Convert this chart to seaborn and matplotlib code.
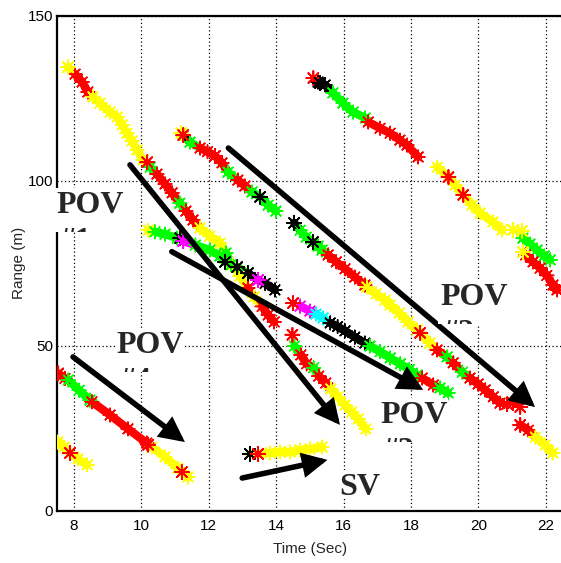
import numpy as np
import pandas as pd
import matplotlib
matplotlib.use("Agg")
import matplotlib.pyplot as plt
import seaborn as sns
from matplotlib.collections import LineCollection
from matplotlib.patches import Rectangle

# ---------------- data ----------------
trk1_t = [7.82, 8.03, 8.24, 8.41, 8.56, 8.77, 9.07, 9.28, 9.43, 9.57, 9.72, 9.87, 10.05, 10.26, 10.46, 10.70,
          10.91, 11.14, 11.32, 11.53, 11.74, 12.03, 12.33, 12.51, 12.69, 12.92, 13.16, 13.34, 13.58, 13.76, 13.94]
trk1_r = [134.4, 132.3, 129.9, 126.9, 125.4, 123.5, 120.8, 119.3, 116.9, 114.4, 112.0, 109.3, 106.3, 104.1, 102.0,
          99.0, 96.3, 93.2, 90.8, 88.1, 85.7, 83.2, 81.1, 78.1, 74.5, 71.1, 67.5, 64.8, 61.9, 59.3, 57.2]
trk1_c = list("yrrryyyyyyyyygrrrgrryyygyyryrrr")

trk2_t = [11.18, 11.24, 11.44, 11.74, 11.96, 12.18, 12.39, 12.57, 12.86, 13.07, 13.28, 13.52, 13.76, 13.99]
trk2_r = [114.4, 113.8, 111.7, 109.9, 108.8, 107.5, 105.4, 102.6, 100.2, 98.4, 96.6, 95.1, 92.6, 90.8]
trk2_c = list("ykgrrrrgrrgggg")

trk3_t = [10.20, 10.40, 10.70, 11.06, 11.15, 11.24, 11.60, 12.03, 12.33, 12.48, 12.66, 12.84, 13.16, 13.46, 13.67, 13.96]
trk3_r = [85.0, 84.5, 83.8, 82.6, 82.6, 81.7, 80.5, 79.0, 77.2, 75.4, 74.5, 73.8, 72.0, 69.9, 68.9, 66.9]
trk3_c = list("ygggkmggggggkmkk")

trk4_t = [14.53, 14.71, 14.89, 15.09, 15.24, 15.36, 15.54, 15.78, 16.04, 16.33, 16.63, 16.69, 16.96, 17.23, 17.38,
          17.65, 17.91, 18.18, 18.27, 18.56, 18.77, 19.07, 19.25, 19.52, 19.75, 19.99, 20.20, 20.44, 20.64]
trk4_r = [87.2, 85.0, 82.9, 81.4, 80.2, 79.0, 77.5, 75.4, 73.3, 70.8, 68.4, 67.8, 65.7, 63.8, 62.3, 59.9, 57.2,
          54.8, 53.9, 50.8, 48.7, 46.6, 44.8, 42.0, 40.2, 38.4, 36.6, 34.5, 32.6]
trk4_c = list("kgggggrrrrryyyyyyyyyrgrgrrrrr")

trk5_t = [21.24, 21.48, 21.69, 21.98, 22.21]
trk5_r = [26.0, 24.4, 22.3, 19.9, 17.5]
trk5_c = list("rryyy")

trk6_t = [14.71, 15.00, 15.18, 15.39, 15.60, 15.82, 16.04, 16.33, 16.63, 16.78, 17.08, 17.38, 17.68, 17.95, 18.18,
          18.33, 18.66, 18.86, 19.10]
trk6_r = [62.0, 60.5, 59.6, 58.4, 56.9, 55.8, 54.5, 52.6, 50.8, 49.9, 48.2, 46.3, 44.5, 42.8, 41.1, 40.2, 38.1,
          37.2, 35.7]
trk6_c = list("mmcckkkkkggggggrrgg")

trk7_t = [14.54, 14.73, 14.90, 15.11, 15.26, 15.47, 15.62, 15.83, 16.04, 16.24, 16.43, 16.66]
trk7_r = [49.9, 47.2, 44.5, 43.3, 40.8, 38.7, 36.9, 34.5, 32.0, 29.9, 27.8, 24.8]
trk7_c = list("grrgrryyyyyy")

trk8_t = [15.24, 15.45, 15.68, 15.98, 16.28, 16.64, 16.73, 17.08, 17.38, 17.67, 17.88, 18.21]
trk8_r = [129.9, 129.0, 126.6, 123.5, 120.8, 119.0, 117.8, 115.9, 114.4, 112.3, 110.8, 107.2]
trk8_c = list("kkggggrrrrrr")

trk9_t = [18.78, 19.11, 19.31, 19.55, 19.81, 20.05, 20.43, 20.70]
trk9_r = [104.1, 101.1, 98.7, 95.7, 92.6, 90.2, 87.5, 85.1]
trk9_c = list("yyyyyyyy")

trk10_t = [21.32, 21.53, 21.74, 21.95, 22.13]
trk10_r = [82.6, 80.8, 79.0, 77.2, 76.0]
trk10_c = list("ggggg")

trk11_t = [21.40, 21.62, 21.83, 22.03, 22.21, 22.33]
trk11_r = [77.5, 75.4, 73.5, 71.3, 68.4, 66.9]
trk11_c = list("rrrrrr")

trk12_t = [13.22, 13.46, 13.82, 14.11, 14.41, 14.71, 15.00, 15.36]
trk12_r = [17.2, 17.2, 17.5, 17.8, 17.8, 18.4, 18.7, 19.3]
trk12_c = list("yyyyyyyy")

trk13_t = [7.53, 7.73, 7.83, 8.15, 8.47, 8.53, 9.07, 9.60, 10.16, 10.31, 10.70, 11.08, 11.38]
trk13_r = [41.6, 40.1, 39.6, 36.5, 33.5, 33.0, 29.0, 24.8, 20.5, 19.3, 16.3, 12.9, 10.2]
trk13_c = list("rrgggrrrryyyy")

trk14_t = [7.52, 7.70, 7.88, 8.12, 8.39]
trk14_r = [20.8, 19.3, 17.5, 15.7, 13.9]
trk14_c = list("yyyyy")

# single, more visible detections
acc_t = [7.82, 10.17, 11.18, 11.24, 12.18, 13.52, 11.15, 11.24, 12.48, 12.84, 13.16, 13.46, 14.53, 15.09,
         18.27, 20.85, 21.03, 21.24, 14.50, 14.48, 15.10, 15.30, 19.11, 19.55, 21.03, 21.29, 21.32,
         13.22, 13.46, 7.53, 10.20, 11.20, 7.88, 21.24]
acc_r = [134.4, 105.6, 114.4, 113.8, 107.5, 95.1, 82.6, 81.7, 75.4, 73.8, 72.0, 69.9, 87.2, 81.4,
         53.9, 32.3, 32.6, 31.4, 62.9, 53.3, 131.1, 129.6, 101.1, 95.7, 85.1, 84.8, 78.4,
         17.2, 17.2, 41.6, 20.0, 11.7, 17.5, 26.0]
acc_c = list("yryrrkkmkkkmkkrrrrrrrkrryyykrrrrrr")

# arrows (start -> tip)
arrow_t0 = [9.66, 10.90, 12.58, 7.97, 12.99]
arrow_r0 = [104.8, 78.5, 109.9, 46.6, 9.9]
arrow_t1 = [15.89, 18.36, 21.68, 11.29, 15.52]
arrow_r1 = [26.0, 36.6, 31.4, 20.8, 15.4]

# labels
label_text = ["POV", "POV", "POV", "POV", "SV"]
label_sub = ["#1", "#4", "#2", "#3", ""]
label_t = [7.49, 9.27, 18.86, 17.08, 15.87]
label_r = [90.2, 47.7, 62.3, 26.5, 4.76]

x_ticks = [8, 10, 12, 14, 16, 18, 20, 22]
y_ticks = [0, 50, 100, 150]

color_map = {"y": "#ffff00", "r": "#ff0000", "g": "#00ff00",
             "k": "#000000", "m": "#ff00ff", "c": "#00ffff"}

tracks = [(trk1_t, trk1_r, trk1_c), (trk2_t, trk2_r, trk2_c), (trk3_t, trk3_r, trk3_c),
          (trk4_t, trk4_r, trk4_c), (trk5_t, trk5_r, trk5_c), (trk6_t, trk6_r, trk6_c),
          (trk7_t, trk7_r, trk7_c), (trk8_t, trk8_r, trk8_c), (trk9_t, trk9_r, trk9_c),
          (trk10_t, trk10_r, trk10_c), (trk11_t, trk11_r, trk11_c), (trk12_t, trk12_r, trk12_c),
          (trk13_t, trk13_r, trk13_c), (trk14_t, trk14_r, trk14_c)]

# ---------------- figure ----------------
sns.set_style("white")
plt.rcParams["font.family"] = ["Liberation Sans", "DejaVu Sans"]

W, H = 561, 563
fig = plt.figure(figsize=(W / 100, H / 100), dpi=100)
ax_left, ax_bottom, ax_top = 57.2, 510.7, 15.7
px_per_t = 33.7
ax = fig.add_axes([ax_left / W, 1 - ax_bottom / H, 15.0 * px_per_t / W, (ax_bottom - ax_top) / H])
ax.set_xlim(7.5, 22.5)
ax.set_ylim(0, 150)
px_per_r = (ax_bottom - ax_top) / 150.0

rows = []
segs, seg_cols = [], []
for k, (tt, rr, cc) in enumerate(tracks):
    for i in range(len(tt)):
        rows.append({"track": k, "t": tt[i], "r": rr[i], "c": cc[i]})
        if i < len(tt) - 1:
            segs.append([(tt[i], rr[i]), (tt[i + 1], rr[i + 1])])
            seg_cols.append(color_map[cc[i]])
df = pd.DataFrame(rows)
acc_df = pd.DataFrame({"t": acc_t, "r": acc_r, "c": acc_c})

lc = LineCollection(segs, colors=seg_cols, linewidths=6.0, capstyle="round", zorder=2.2)
ax.add_collection(lc)

star = (8, 2, 0)
sns.scatterplot(data=df, x="t", y="r", hue="c", palette=color_map, marker=star, s=95,
                linewidth=1.1, legend=False, ax=ax, zorder=3)
sns.scatterplot(data=acc_df, x="t", y="r", hue="c", palette=color_map, marker=star, s=100,
                linewidth=1.3, legend=False, ax=ax, zorder=3.5)

for t0, r0, t1, r1 in zip(arrow_t0, arrow_r0, arrow_t1, arrow_r1):
    ax.annotate("", xy=(t1, r1), xytext=(t0, r0),
                arrowprops=dict(arrowstyle="-|>", color="black", lw=4.0, mutation_scale=30,
                                shrinkA=0, shrinkB=0, joinstyle="miter"),
                zorder=4)

serif = ["Liberation Serif", "DejaVu Serif"]
for txt, sub, tx, ry in zip(label_text, label_sub, label_t, label_r):
    w_px = 70 if txt == "POV" else 44
    below_px = 19 if sub else 4
    rect = Rectangle((tx - 2 / px_per_t, ry - below_px / px_per_r), w_px / px_per_t,
                     (below_px + 25) / px_per_r, transform=ax.transData,
                     facecolor="white", edgecolor="none", zorder=5, clip_on=False)
    ax.add_patch(rect)
    ax.text(tx, ry, txt, family=serif, weight="bold", fontsize=23, ha="left", va="baseline",
            zorder=6, clip_on=False)
    if sub:
        clip = Rectangle((tx - 2 / px_per_t, ry - below_px / px_per_r), w_px / px_per_t,
                         (below_px + 25) / px_per_r, transform=ax.transData)
        st = ax.text(tx + 3 / px_per_t, ry - 35.5 / px_per_r, sub, family=serif, weight="bold",
                     fontsize=23, ha="left", va="baseline", zorder=6, clip_on=True)
        st.set_clip_path(clip)

ax.set_xticks(x_ticks)
ax.set_yticks(y_ticks)
ax.grid(True, linestyle=(0, (1, 2)), color="black", linewidth=0.9)
ax.set_axisbelow(True)
ax.tick_params(direction="in", length=4, width=1, labelsize=11, colors="black")
ax.tick_params(axis="y", pad=3)
ax.tick_params(axis="x", pad=6)
for s in ax.spines.values():
    s.set_linewidth(1.6)
    s.set_color("black")

ax.set_xlabel("Time (Sec)", fontsize=11)
ax.set_ylabel("Range (m)", fontsize=11)
ax.xaxis.set_label_coords(0.5, -0.064)
ax.yaxis.set_label_coords(-0.062, 0.5)

fig.savefig("out.png", dpi=100)
